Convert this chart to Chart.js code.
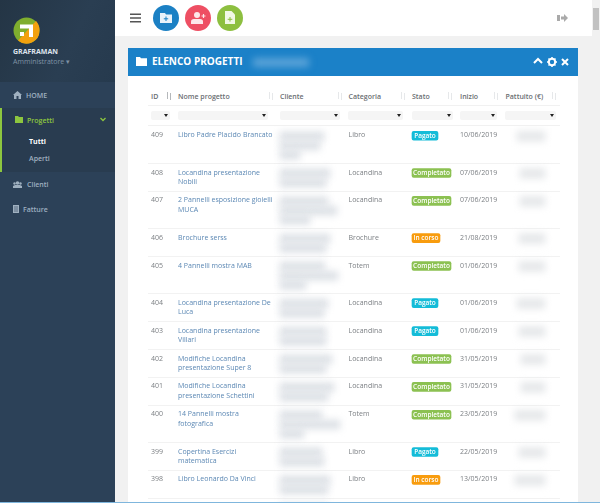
<!DOCTYPE html>
<html lang="it">
<head>
<meta charset="utf-8">
<title>Elenco progetti</title>
<script src="https://cdn.jsdelivr.net/npm/chart.js@4"></script>
<style>
html, body { margin: 0; height: 100%; overflow: hidden; background: #f1f1f1; font-family: "Open Sans", sans-serif; color: #676a6c; }
body { filter: blur(0.35px); }
div, span, svg { position: absolute; }
.t { white-space: nowrap; font-size: 7px; line-height: 9px; }
#side { left: 0; top: 0; width: 115px; height: 503px; background: #2c4158; }
#sideTop { left: 0; top: 0; width: 115px; height: 82px; background: linear-gradient(115deg, #243545 0%, #2a3e52 60%, #263a4e 100%); }
#sideActive { left: 0; top: 108px; width: 115px; height: 64px; background: #293c50; border-left: 2px solid #8dc63f; box-sizing: border-box; }
#bar { left: 115px; top: 0; width: 477px; height: 36px; background: #fff; }
.round { width: 26px; height: 26px; border-radius: 50%; top: 5px; }
#panel { left: 128px; top: 48px; width: 450px; height: 455px; background: #fff; }
#head { left: 0; top: 0; width: 450px; height: 28px; background: #1b81c8; }
#headBlur { left: 125px; top: 10px; width: 56px; height: 9px; background: #5aa3d8; filter: blur(3.5px); }
.sel { top: 111px; height: 9px; background: #f5f5f5; border-radius: 2px; }
.sel::after { content: ""; position: absolute; right: 2px; top: 3px; border: 2px solid transparent; border-top: 3px solid #222; }
.rule { left: 148px; width: 412px; height: 1px; background: #f1f1f1; }
#chartWrap { left: 148px; top: 126px; width: 412px; height: 377px; }
#scroll { left: 592px; top: 0; width: 8px; height: 503px; background: #f1f1f1; }
#thumb { left: 1px; top: 8px; width: 6px; height: 22px; background: #c1c1c1; }
#frame { left: 0; top: 502px; width: 600px; height: 1px; background: #7fb6dd; }
</style>
</head>
<body>
<div id="side">
  <div id="sideTop"></div>
  <div id="sideActive"></div>
  <svg style="left:13px;top:17px" width="27" height="27" viewBox="0 0 27 27">
    <circle cx="13.5" cy="13.5" r="13" fill="#7fae2e"/>
    <path d="M26.5 13.5A13 13 0 0 1 5 23.5L23 4A13 13 0 0 1 26.5 13.5Z" fill="#f2a10e"/>
    <path d="M7 7.5H20V20H16V11.5H7ZM7 15H11V19H7Z" fill="#fff"/>
  </svg>
  <span class="t" style="left:13px;top:47px;font-weight:700;color:#dfe4ed">GRAFRAMAN</span>
  <span class="t" style="left:13px;top:57px;color:#7f92a4">Amministratore ▾</span>
  <svg style="left:13px;top:91px" width="9" height="8" viewBox="0 0 9 8"><path d="M4.5 0L9 4H8V8H5.5V5H3.5V8H1V4H0Z" fill="#9fb0c0"/></svg>
  <span class="t" style="left:26px;top:91px;color:#9fb0c0;font-weight:600">HOME</span>
  <svg style="left:15px;top:116px" width="8" height="7" viewBox="0 0 8 7"><path d="M0 0H3L4 1H8V7H0Z" fill="#8dc63f"/></svg>
  <span class="t" style="left:27px;top:116px;color:#8dc63f;font-weight:600">Progetti</span>
  <svg style="left:100px;top:117px" width="6" height="5" viewBox="0 0 6 5"><path d="M0.5 1L3 3.5L5.5 1" fill="none" stroke="#8dc63f" stroke-width="1.3"/></svg>
  <span class="t" style="left:29px;top:137px;color:#fff;font-weight:700">Tutti</span>
  <span class="t" style="left:29px;top:154px;color:#a3b2c0;font-weight:600">Aperti</span>
  <svg style="left:13px;top:181px" width="9" height="7" viewBox="0 0 9 7"><circle cx="4.5" cy="2" r="1.8" fill="#9fb0c0"/><circle cx="1.5" cy="2.5" r="1.2" fill="#9fb0c0"/><circle cx="7.5" cy="2.5" r="1.2" fill="#9fb0c0"/><path d="M0 7V5L2 4H7L9 5V7Z" fill="#9fb0c0"/></svg>
  <span class="t" style="left:27px;top:180px;color:#9fb0c0;font-weight:600">Clienti</span>
  <svg style="left:13px;top:205px" width="6" height="8" viewBox="0 0 6 8"><path d="M0 0H6V8H0Z" fill="#9fb0c0"/><path d="M1 2H5M1 4H5M1 6H5" stroke="#2c4158" stroke-width=".6"/></svg>
  <span class="t" style="left:23px;top:205px;color:#9fb0c0;font-weight:600">Fatture</span>
</div>

<div id="bar">
  <svg style="left:15px;top:13px" width="11" height="10" viewBox="0 0 11 10"><path d="M0 1.2H11M0 5H11M0 8.8H11" stroke="#555" stroke-width="1.5"/></svg>
  <div class="round" style="left:38px;background:#1b80c4"></div>
  <svg style="left:45px;top:13px" width="12" height="10" viewBox="0 0 12 10"><path d="M0 0H5L6 1.5H12V10H0Z" fill="#e8f2fa"/><path d="M6 3.5V8M3.8 5.8H8.2" stroke="#1b80c4" stroke-width="1"/></svg>
  <div class="round" style="left:70px;background:#ee4f63"></div>
  <svg style="left:76px;top:12px" width="15" height="12" viewBox="0 0 15 12"><circle cx="6" cy="3" r="3" fill="#fde8ea"/><path d="M0 12V9.5Q0 7 3 7H9Q12 7 12 9.5V12Z" fill="#fde8ea"/><path d="M12.5 2V6M10.5 4H14.5" stroke="#fde8ea" stroke-width="1.2"/></svg>
  <div class="round" style="left:102px;background:#8dbf40"></div>
  <svg style="left:110px;top:11px" width="10" height="13" viewBox="0 0 10 13"><path d="M0 0H6.5L10 3.5V13H0Z" fill="#f1f8e6"/><path d="M5 6V10.6M2.7 8.3H7.3" stroke="#8dbf40" stroke-width="1"/></svg>
  <svg style="left:442px;top:14px" width="11" height="8" viewBox="0 0 11 8"><path d="M0 1H3V7H0Z" fill="#aaa"/><path d="M4 2.5H7V0L11 4L7 8V5.5H4Z" fill="#aaa"/></svg>
</div>

<div id="panel">
  <div id="head">
    <svg style="left:8px;top:9px" width="11" height="9" viewBox="0 0 11 9"><path d="M0 0H4L5 1.2H11V9H0Z" fill="#fff"/></svg>
    <span class="t" style="left:24px;top:7px;font-size:10px;line-height:13px;font-weight:700;color:#fff">ELENCO PROGETTI</span>
    <div id="headBlur"></div>
    <svg style="left:405px;top:9px" width="10" height="7" viewBox="0 0 10 7"><path d="M1 6L5 2L9 6" fill="none" stroke="#fff" stroke-width="2"/></svg>
    <svg style="left:419px;top:9px" width="10" height="10" viewBox="0 0 10 10"><circle cx="5" cy="5" r="3.2" fill="none" stroke="#fff" stroke-width="2"/><path d="M5 0V10M0 5H10M1.5 1.5L8.5 8.5M8.5 1.5L1.5 8.5" stroke="#fff" stroke-width="1.5" stroke-dasharray="1.6 6.8"/></svg>
    <svg style="left:433px;top:10px" width="8" height="8" viewBox="0 0 8 8"><path d="M1 1L7 7M7 1L1 7" stroke="#fff" stroke-width="2"/></svg>
  </div>
</div>
<div id="heads"></div>

<div class="rule" style="top:105px"></div>
<div class="rule" style="top:125px"></div>
<div id="chartWrap"><canvas id="tabella" width="412" height="377"></canvas></div>

<div id="scroll"><div id="thumb"></div></div>
<div id="frame"></div>

<script>
// tabella progetti
const ids = [409, 408, 407, 406, 405, 404, 403, 402, 401, 400, 399, 398, 397];
const nomi = [
    'Libro Padre Placido Brancato',
    'Locandina presentazione\nNobili',
    '2 Pannelli esposizione gioielli\nMUCA',
    'Brochure serss',
    '4 Pannelli mostra MAB',
    'Locandina presentazione De\nLuca',
    'Locandina presentazione\nVillari',
    'Modifiche Locandina\npresentazione Super 8',
    'Modifiche Locandina\npresentazione Schettini',
    '14 Pannelli mostra\nfotografica',
    'Copertina Esercizi\nmatematica',
    'Libro Leonardo Da Vinci',
    ''
];
const categorie = ['Libro', 'Locandina', 'Locandina', 'Brochure', 'Totem', 'Locandina', 'Locandina', 'Locandina', 'Locandina', 'Totem', 'Libro', 'Libro', ''];
const stati = ['Pagato', 'Completato', 'Completato', 'In corso', 'Completato', 'Pagato', 'Pagato', 'Completato', 'Completato', 'Completato', 'Pagato', 'In corso', 'Pagato'];
const inizio = ['10/06/2019', '07/06/2019', '07/06/2019', '21/08/2019', '01/06/2019', '01/06/2019', '01/06/2019', '31/05/2019', '31/05/2019', '23/05/2019', '22/05/2019', '13/05/2019', ''];
// the Cliente and Pattuito cells are blurred in the picture: only their rough length can be read
const clienteLunghezze = [[44, 40, 20], [50, 46], [48, 57, 30], [50, 46], [45, 58, 26], [48, 44], [46, 46], [52, 46], [54, 48], [42, 60, 24], [42, 44], [50, 48], [48, 40]];
const pattuitoLunghezze = [28, 25, 25, 26, 26, 28, 26, 24, 24, 30, 26, 30, 0];
const intestazioni = ['ID', 'Nome progetto', 'Cliente', 'Categoria', 'Stato', 'Inizio', 'Pattuito (€)'];

// layout, page pixels
const colonne = [151, 178, 280, 348.5, 412, 460, 505.5];
const filtri = [[151, 19], [178, 90], [280, 60], [348, 55], [412, 41], [460, 37], [505, 51]];
const frecce = [166, 268, 337, 400, 447, 493, 551];
const pillola = { 'Pagato': [26, '#14bcd8'], 'Completato': [39, '#8cc152'], 'In corso': [28, '#f89c0e'] };
const riga = 9.3;
const grigio = '#7b7f83';

const heads = document.getElementById('heads');
intestazioni.forEach((txt, i) => {
    heads.insertAdjacentHTML('beforeend',
        `<span class="t" style="left:${colonne[i]}px;top:92px;font-weight:600;color:#6a6e72">${txt}</span>` +
        `<svg style="left:${frecce[i]}px;top:92px" width="6" height="8" viewBox="0 0 6 8"><path d="M1.5 0V7M4.5 1V8" stroke="${i ? '#e6e8ea' : '#b5b8bb'}" stroke-width="1"/></svg>` +
        `<div class="sel" style="left:${filtri[i][0]}px;width:${filtri[i][1]}px"></div>`);
});

// row tops in line units: a row is its text lines plus one unit of padding
const rigaInizio = [];
const bordi = [];
let somma = 0;
clienteLunghezze.forEach(l => {
    rigaInizio.push(somma);
    somma += l.length + 1;
    bordi.push(somma);
});
const primaRiga = rigaInizio.map(v => v + 1);

const clienteBarre = [];
clienteLunghezze.forEach((l, r) => l.forEach((w, k) => {
    clienteBarre.push({ x: [colonne[2], colonne[2] + w], y: primaRiga[r] + k + 0.1 });
}));

new Chart(document.getElementById('tabella'), {
    type: 'bar',
    data: {
        datasets: [
            {
                label: 'Cliente', data: clienteBarre, blur: '3.5px', barThickness: 9,
                backgroundColor: '#dde1e6', grouped: false
            },
            {
                label: 'Pattuito',
                data: pattuitoLunghezze.map((w, r) => ({ x: [545 - w, 545], y: primaRiga[r] + 0.1 })),
                blur: '3.5px', barThickness: 10, backgroundColor: '#e6e8ea', grouped: false
            },
            {
                label: 'Stato',
                data: stati.map((s, r) => ({ x: [colonne[4], colonne[4] + pillola[s][0]], y: primaRiga[r] + 0.05 })),
                barThickness: 9, borderRadius: 2, borderSkipped: false,
                backgroundColor: stati.map(s => pillola[s][1]), grouped: false
            }
        ]
    },
    options: {
        indexAxis: 'y',
        responsive: false,
        animation: false,
        layout: { padding: 0, autoPadding: false },
        plugins: { legend: { display: false }, tooltip: { enabled: false } },
        scales: {
            x: { type: 'linear', min: 148, max: 560, display: false },
            y: {
                type: 'linear', position: 'left', reverse: true, offset: false, min: 0, max: 377 / riga,
                grid: { display: false, drawTicks: false, offset: false }, border: { display: false },
                afterBuildTicks: s => { s.ticks = primaRiga.map(v => ({ value: v })); },
                afterFit: s => { s.width = 0; s.paddingTop = 0; s.paddingBottom = 0; },
                ticks: {
                    mirror: true, padding: 3, autoSkip: false, color: grigio,
                    font: { family: 'Open Sans', size: 7 },
                    callback: (v, i) => String(ids[i])
                }
            },
            griglia: {
                type: 'linear', position: 'left', reverse: true, offset: false, min: 0, max: 377 / riga,
                border: { display: false },
                grid: { color: '#f2f2f2', lineWidth: 1, drawTicks: false, offset: false },
                afterBuildTicks: s => { s.ticks = bordi.map(v => ({ value: v })); },
                afterFit: s => { s.width = 0; s.paddingTop = 0; s.paddingBottom = 0; },
                ticks: { display: false, autoSkip: false }
            }
        }
    },
    plugins: [{
        id: 'celle',
        beforeDatasetDraw(chart, args) {
            const b = chart.data.datasets[args.index].blur;
            chart.ctx.save();
            if (b) chart.ctx.filter = `blur(${b})`;
        },
        afterDatasetDraw(chart) {
            chart.ctx.restore();
        },
        afterDatasetsDraw(chart) {
            const { ctx, scales: { x, y } } = chart;
            ctx.save();
            ctx.textBaseline = 'middle';
            ctx.font = '7px "Open Sans"';
            nomi.forEach((nome, r) => {
                ctx.fillStyle = '#5c88b4';
                nome.split('\n').forEach((linea, k) => {
                    ctx.fillText(linea, x.getPixelForValue(colonne[1]), y.getPixelForValue(primaRiga[r] + k));
                });
                ctx.fillStyle = grigio;
                ctx.fillText(categorie[r], x.getPixelForValue(colonne[3]), y.getPixelForValue(primaRiga[r]));
                ctx.fillText(inizio[r], x.getPixelForValue(colonne[5]), y.getPixelForValue(primaRiga[r]));
            });
            ctx.fillStyle = '#fff';
            ctx.font = '600 6.5px "Open Sans"';
            ctx.textAlign = 'center';
            stati.forEach((s, r) => {
                ctx.fillText(s, x.getPixelForValue(colonne[4] + pillola[s][0] / 2), y.getPixelForValue(primaRiga[r] + 0.05));
            });
            ctx.restore();
        }
    }]
});
</script>
</body>
</html>
